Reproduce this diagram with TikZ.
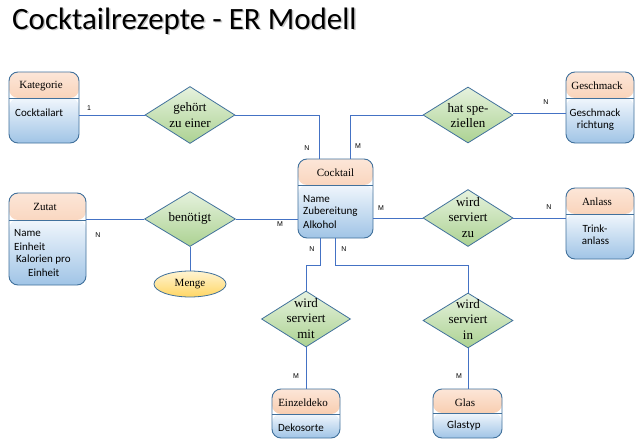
\documentclass[tikz,border=0pt]{standalone}
\usepackage{fontspec}
\usetikzlibrary{shapes.geometric,calc}
\newfontfamily\calfont{Carlito}
\newfontfamily\tmsfont{Liberation Serif}
\newfontfamily\arsfont{Liberation Sans}
\definecolor{bordc}{RGB}{65,113,156}
\definecolor{lnc}{RGB}{68,114,196}
\definecolor{ortop}{RGB}{252,230,216}
\definecolor{orbot}{RGB}{244,180,136}
\definecolor{bltop}{RGB}{240,246,252}
\definecolor{blbot}{RGB}{160,196,230}
\definecolor{grtop}{RGB}{230,242,222}
\definecolor{grbot}{RGB}{172,210,146}
\definecolor{yetop}{RGB}{255,244,210}
\definecolor{yebot}{RGB}{255,214,100}
\tikzset{
  entity/.style={draw=bordc, line width=0.9pt, rounded corners=9pt, inner sep=0pt,
    path picture={
      \shade[top color=ortop, bottom color=orbot] (path picture bounding box.north west) rectangle ([yshift=-#1]path picture bounding box.north east);
      \shade[top color=bltop, bottom color=blbot] ([yshift=-#1]path picture bounding box.north west) rectangle (path picture bounding box.south east);
      \draw[draw=bordc, line width=0.9pt] ([yshift=-#1]path picture bounding box.north west) -- ([yshift=-#1]path picture bounding box.north east);
    }},
  hdr/.style={font=\tmsfont\fontsize{11}{13}\selectfont, inner sep=0pt},
  attr/.style={font=\calfont\fontsize{11}{13}\selectfont, inner sep=0pt},
  rel/.style={diamond, draw=bordc, line width=0.8pt, top color=grtop, bottom color=grbot, inner sep=0pt},
  reltext/.style={font=\tmsfont\fontsize{13}{15.5}\selectfont, align=center, inner sep=0pt},
  conn/.style={draw=lnc, line width=0.8pt},
  card/.style={font=\arsfont\fontsize{7}{8}\selectfont, inner sep=0pt},
}
\begin{document}
\begin{tikzpicture}[x=1pt,y=-1pt]
\useasboundingbox[fill=white] (0,0) rectangle (641,447);

% title
\node[anchor=base west, inner sep=0pt, font=\calfont\fontsize{31}{36}\selectfont, text=black!45, opacity=0.5] (titleshadow) at (13.5,30.5) {Cocktailrezepte - ER Modell};
\node[anchor=base west, inner sep=0pt, font=\calfont\fontsize{31}{36}\selectfont] (title) at (12,29) {Cocktailrezepte - ER Modell};

% entities
\node[entity=26pt, minimum width=70pt, minimum height=71pt] (kat) at (44,107.5) {};
\node[hdr] (katH) at (41,86) {Kategorie};
\node[attr, anchor=west] (katA) at (15,113) {Cocktailart};

\node[entity=27pt, minimum width=77pt, minimum height=92pt] (zutat) at (47.5,239) {};
\node[hdr] (zutH) at (45,207) {Zutat};
\node[attr, anchor=west] (zutA1) at (14,233) {Name};
\node[attr, anchor=west] (zutA2) at (14,247) {Einheit};
\node[attr, anchor=west] (zutA3) at (16,260) {Kalorien pro};
\node[attr, anchor=west] (zutA4) at (28,273) {Einheit};

\node[entity=26pt, minimum width=75pt, minimum height=79pt] (cocktail) at (335.5,198.5) {};
\node[hdr] (cocH) at (335.5,173) {Cocktail};
\node[attr, anchor=west] (cocA1) at (303,199) {Name};
\node[attr, anchor=west] (cocA2) at (303,212) {Zubereitung};
\node[attr, anchor=west] (cocA3) at (303,225) {Alkohol};

\node[entity=26pt, minimum width=68pt, minimum height=71pt] (gesch) at (600,107.5) {};
\node[hdr] (gesH) at (597,86) {Geschmack};
\node[attr] (gesA1) at (595,113) {Geschmack};
\node[attr] (gesA2) at (595.5,126) {richtung};

\node[entity=26pt, minimum width=68pt, minimum height=71pt] (anlass) at (600,223.5) {};
\node[hdr] (anlH) at (597,202) {Anlass};
\node[attr] (anlA1) at (595,229) {Trink-};
\node[attr] (anlA2) at (595.5,241) {anlass};

\node[entity=25pt, minimum width=68pt, minimum height=49pt] (deko) at (306,413.5) {};
\node[hdr] (dekH) at (303,403) {Einzeldeko};
\node[attr, anchor=west] (dekA) at (278,428) {Dekosorte};

\node[entity=24pt, minimum width=69pt, minimum height=49pt] (glas) at (467.5,413.5) {};
\node[hdr] (glaH) at (465,403) {Glas};
\node[attr, anchor=west] (glaA) at (447,426) {Glastyp};

% relationships
\node[rel, minimum width=90pt, minimum height=57pt] (geh) at (190,115) {};
\node[reltext] (gehT) at (190,115) {gehört\\zu einer};
\node[rel, minimum width=90pt, minimum height=56pt] (hat) at (468,115) {};
\node[reltext] (hatT) at (468,115.5) {hat spe-\\ziellen};
\node[rel, minimum width=91pt, minimum height=55pt] (ben) at (190,219) {};
\node[reltext] (benT) at (190,218) {benötigt};
\node[rel, minimum width=90pt, minimum height=57pt] (zu) at (468,218) {};
\node[reltext] (zuT) at (468,217.5) {wird\\serviert\\zu};
\node[rel, minimum width=89pt, minimum height=56pt] (mit) at (306,319) {};
\node[reltext] (mitT) at (306,318.5) {wird\\serviert\\mit};
\node[rel, minimum width=90pt, minimum height=55pt] (rin) at (468,320.5) {};
\node[reltext] (rinT) at (468,319) {wird\\serviert\\in};

\node[ellipse, draw=bordc, line width=0.8pt, top color=yetop, bottom color=yebot, minimum width=72pt, minimum height=26pt, inner sep=0pt, font=\tmsfont\fontsize{11}{13}\selectfont] (menge) at (190,284) {Menge};

% connectors
\draw[conn] (geh.west) -- (geh.west -| kat.east);
\draw[conn] (geh.east) -| ([xshift=-16.5pt]cocktail.north);
\draw[conn] (hat.west) -| ([xshift=14.5pt]cocktail.north);
\draw[conn] ([yshift=1.5pt]hat.east) -- ([yshift=1.5pt]hat.east -| gesch.west);
\draw[conn] (ben.west) -- (ben.west -| zutat.east);
\draw[conn] (ben.east) -- (ben.east -| cocktail.west);
\draw[conn] (ben.south) -- (menge.north);
\draw[conn] (zu.west) -- (zu.west -| cocktail.east);
\draw[conn] (zu.east) -- (zu.east -| anlass.west);
\draw[conn] ([xshift=-15.5pt]cocktail.south) -- ++(0,27) -| (mit.north);
\draw[conn] ([xshift=-0.5pt]cocktail.south) -- ++(0,27) -| (rin.north);
\draw[conn] (mit.south) -- (deko.north);
\draw[conn] (rin.south) -- (rin.south |- glas.north);

% cardinalities
\node[card] (c1) at (89,108) {1};
\node[card] (c2) at (307,148) {N};
\node[card] (c3) at (358,146) {M};
\node[card] (c4) at (546,102) {N};
\node[card] (c5) at (98,235) {N};
\node[card] (c6) at (280,224) {M};
\node[card] (c7) at (381,208) {M};
\node[card] (c8) at (549,207) {N};
\node[card] (c9) at (312,249) {N};
\node[card] (c10) at (344,249) {N};
\node[card] (c11) at (296,376) {M};
\node[card] (c12) at (459,376) {M};
\end{tikzpicture}
\end{document}
